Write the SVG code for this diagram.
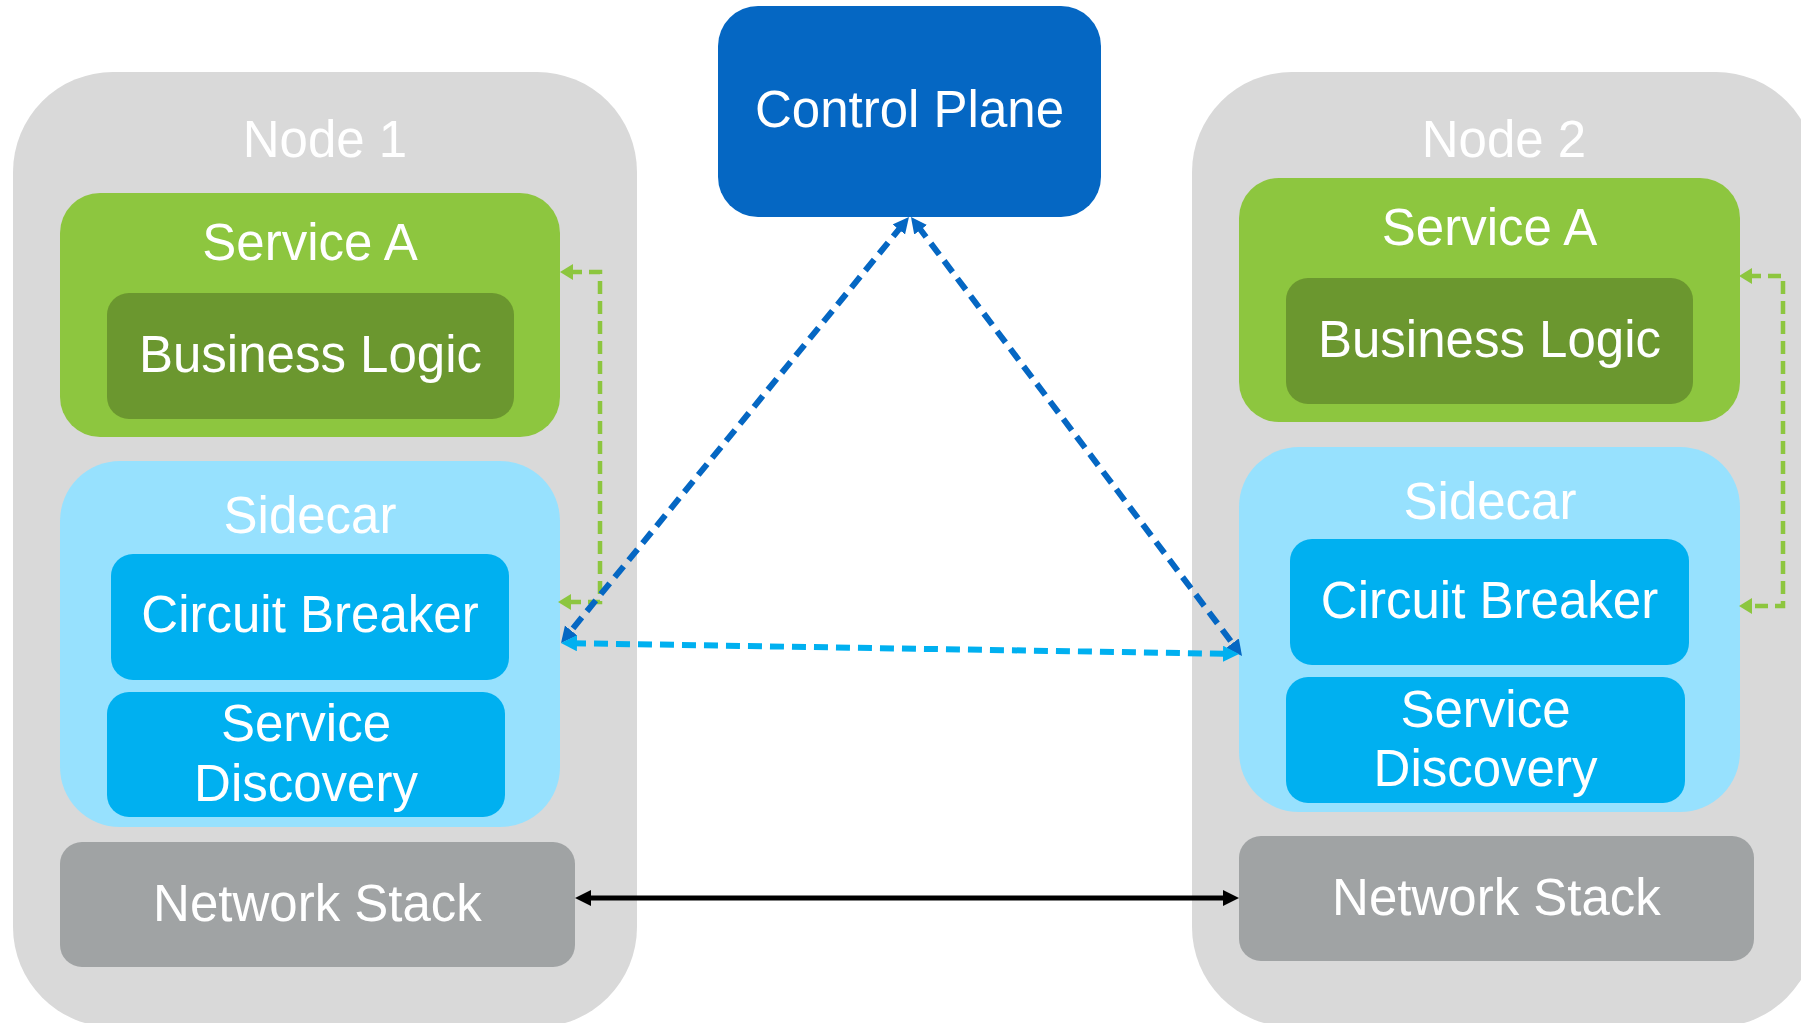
<svg xmlns="http://www.w3.org/2000/svg" width="1801" height="1023" viewBox="0 0 1801 1023">
<style>
.node{fill:#d9d9d9}
.svc{fill:#8dc63f}
.biz{fill:#6b972f}
.side{fill:#97e1fe}
.comp{fill:#00b0f0}
.net{fill:#a0a3a4}
.cp{fill:#0567c3}
.t{font-family:"Liberation Sans",Arial,Helvetica,sans-serif;font-size:51px;fill:#ffffff;text-anchor:middle}
.dblue{fill:none;stroke:#0567c3;stroke-width:6;stroke-dasharray:14 8}
.lblue{fill:none;stroke:#00b0f0;stroke-width:6;stroke-dasharray:14 8}
.green{fill:none;stroke:#8dc63f;stroke-width:4.5;stroke-dasharray:13 7}
.black{fill:none;stroke:#000000;stroke-width:5}
</style>
<defs>
<marker id="mDark" markerUnits="userSpaceOnUse" markerWidth="18" markerHeight="18" viewBox="0 0 18 18" refX="5" refY="8" orient="auto-start-reverse"><path d="M0,0 L16,8 L0,16 z" fill="#0567c3"/></marker>
<marker id="mLight" markerUnits="userSpaceOnUse" markerWidth="18" markerHeight="18" viewBox="0 0 18 18" refX="5" refY="8" orient="auto-start-reverse"><path d="M0,0 L16,8 L0,16 z" fill="#00b0f0"/></marker>
<marker id="mGreen" markerUnits="userSpaceOnUse" markerWidth="18" markerHeight="18" viewBox="0 0 18 18" refX="4" refY="8" orient="auto-start-reverse"><path d="M0,0 L13,8 L0,16 z" fill="#8dc63f"/></marker>
<marker id="mBlack" markerUnits="userSpaceOnUse" markerWidth="18" markerHeight="18" viewBox="0 0 18 18" refX="5" refY="8" orient="auto-start-reverse"><path d="M0,0 L16,8 L0,16 z" fill="#000000"/></marker>
</defs>
<rect width="1801" height="1023" fill="#ffffff"/>

<g id="node1">
<rect class="node" x="13" y="72" width="624" height="955" rx="100"/>
<text class="t" x="325" y="157">Node 1</text>
<g id="node1-serviceA">
<rect class="svc" x="60" y="193" width="500" height="244" rx="40"/>
<text class="t" x="310" y="260">Service A</text>
</g>
<g id="node1-business">
<rect class="biz" x="107" y="293" width="407" height="126" rx="22"/>
<text class="t" x="310.5" y="372">Business Logic</text>
</g>
<g id="node1-sidecar">
<rect class="side" x="60" y="461" width="500" height="366" rx="60"/>
<text class="t" x="310" y="533">Sidecar</text>
</g>
<g id="node1-circuit">
<rect class="comp" x="111" y="554" width="398" height="126" rx="22"/>
<text class="t" x="310" y="632">Circuit Breaker</text>
</g>
<g id="node1-discovery">
<rect class="comp" x="107" y="692" width="398" height="125" rx="22"/>
<text class="t" x="306" y="741">Service</text>
<text class="t" x="306" y="801">Discovery</text>
</g>
<g id="node1-network">
<rect class="net" x="60" y="842" width="515" height="125" rx="22"/>
<text class="t" x="317.5" y="921">Network Stack</text>
</g>
</g>

<g id="node2">
<rect class="node" x="1192" y="72" width="624" height="955" rx="100"/>
<text class="t" x="1504" y="157">Node 2</text>
<g id="node2-serviceA">
<rect class="svc" x="1239" y="178" width="501" height="244" rx="40"/>
<text class="t" x="1489.5" y="245">Service A</text>
</g>
<g id="node2-business">
<rect class="biz" x="1286" y="278" width="407" height="126" rx="22"/>
<text class="t" x="1489.5" y="357">Business Logic</text>
</g>
<g id="node2-sidecar">
<rect class="side" x="1239" y="447" width="501" height="365" rx="60"/>
<text class="t" x="1490" y="519">Sidecar</text>
</g>
<g id="node2-circuit">
<rect class="comp" x="1290" y="539" width="399" height="126" rx="22"/>
<text class="t" x="1489.5" y="618">Circuit Breaker</text>
</g>
<g id="node2-discovery">
<rect class="comp" x="1286" y="677" width="399" height="126" rx="22"/>
<text class="t" x="1485.5" y="727">Service</text>
<text class="t" x="1485.5" y="786">Discovery</text>
</g>
<g id="node2-network">
<rect class="net" x="1239" y="836" width="515" height="125" rx="22"/>
<text class="t" x="1496.5" y="915">Network Stack</text>
</g>
</g>

<g id="control-plane">
<rect class="cp" x="718" y="6" width="383" height="211" rx="40"/>
<text class="t" x="909.5" y="127">Control Plane</text>
</g>

<g id="connectors">
<path class="green" d="M569,272 H600 V602 H567" marker-start="url(#mGreen)" marker-end="url(#mGreen)"/>
<path class="green" d="M1748,276 H1783 V606 H1748" marker-start="url(#mGreen)" marker-end="url(#mGreen)"/>
<path class="dblue" d="M902,225.6 L568,634.4" marker-start="url(#mDark)" marker-end="url(#mDark)"/>
<path class="dblue" d="M917.6,225.8 L1235.4,647.2" marker-start="url(#mDark)" marker-end="url(#mDark)"/>
<path class="lblue" d="M572,643.2 L1228,653.8" marker-start="url(#mLight)" marker-end="url(#mLight)"/>
<path class="black" d="M586,898 L1228,898" marker-start="url(#mBlack)" marker-end="url(#mBlack)"/>
</g>
</svg>
